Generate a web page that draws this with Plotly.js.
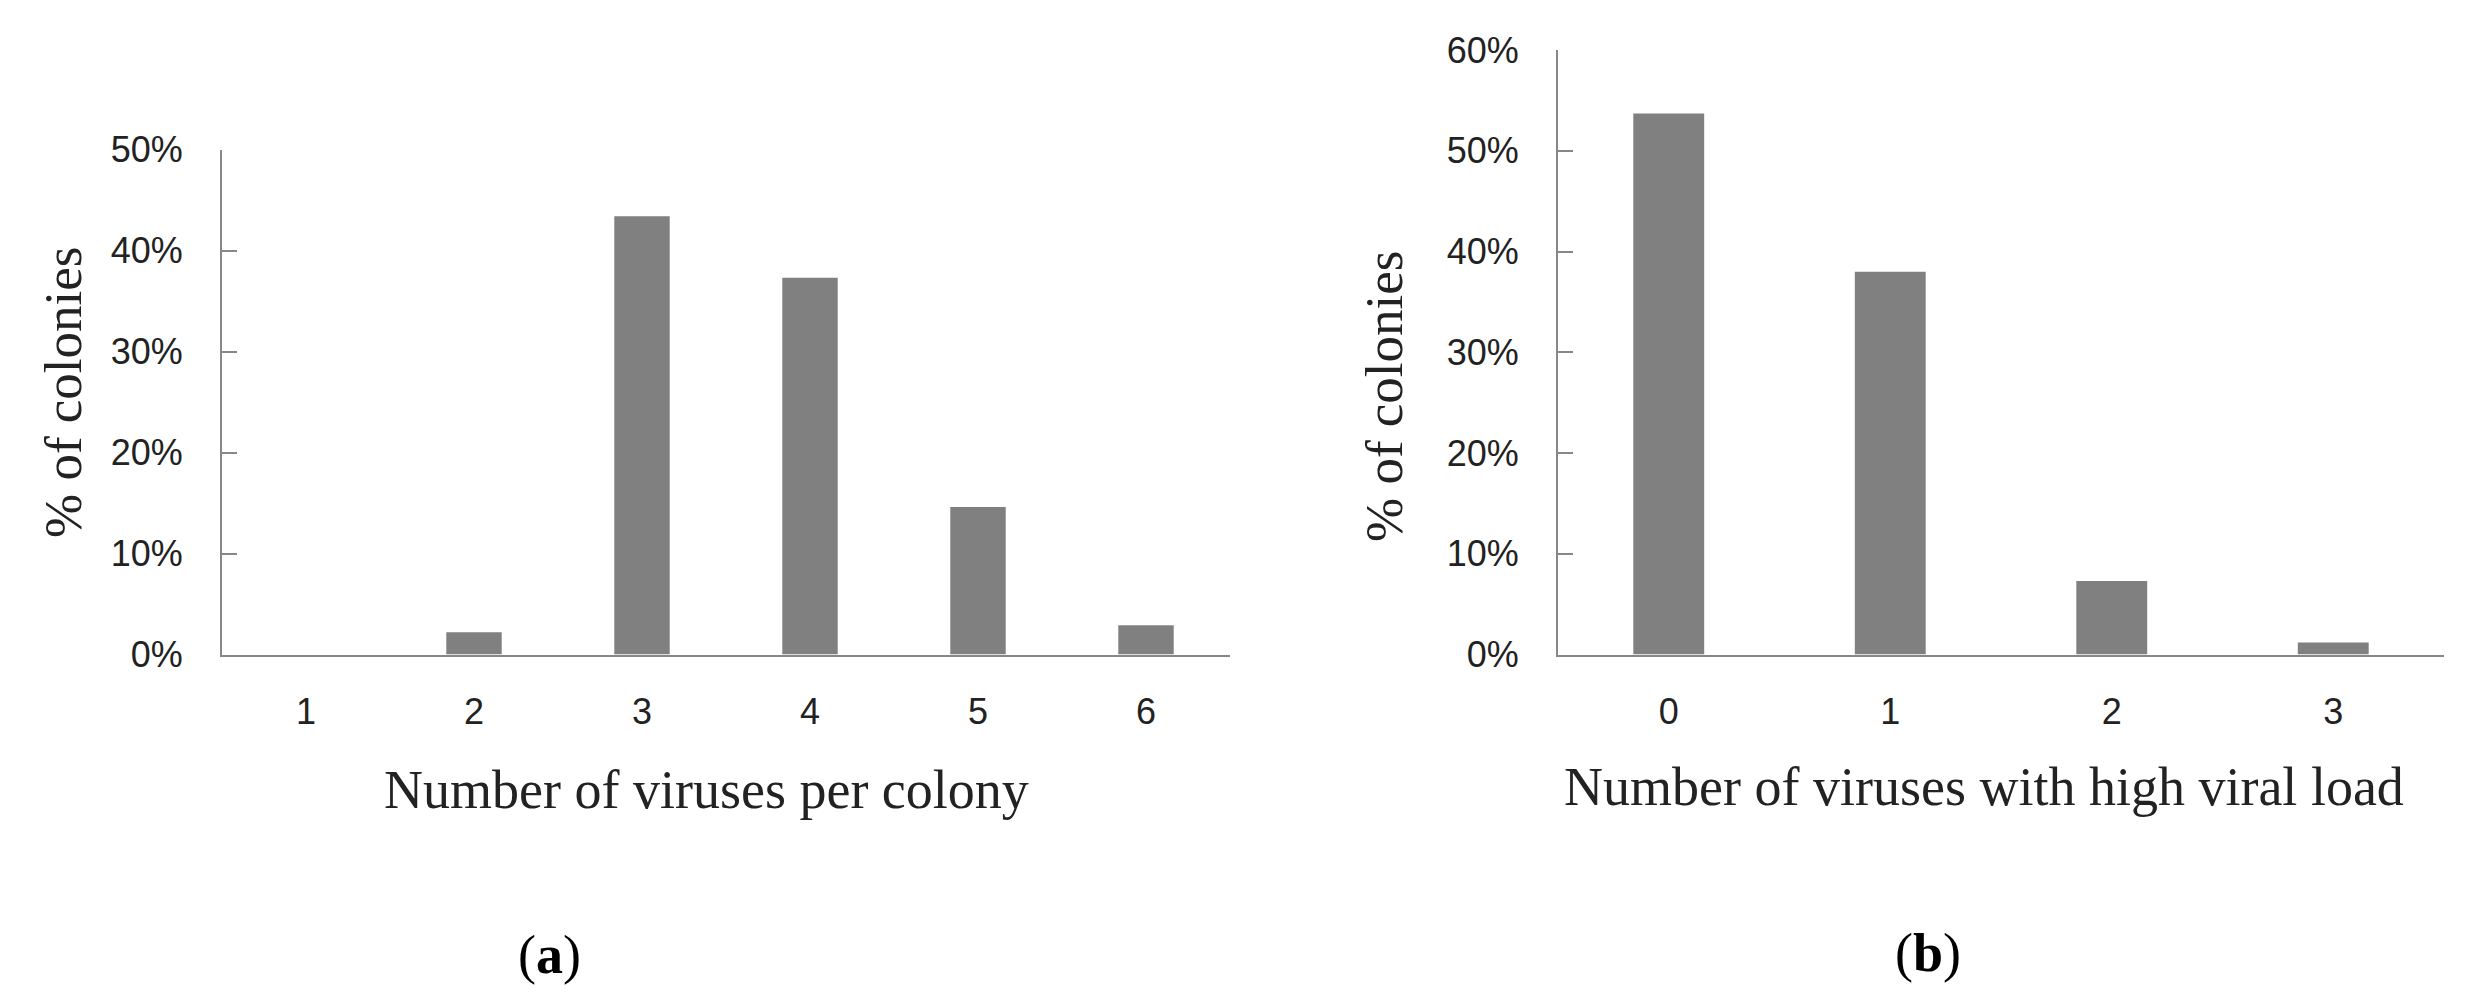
<!DOCTYPE html>
<html>
<head>
<meta charset="utf-8">
<script src="https://cdn.plot.ly/plotly-3.0.1.min.js"></script>
<style>
  html, body { margin: 0; padding: 0; background: #fff; }
  #chart { width: 2468px; height: 1007px; }
</style>
</head>
<body>
<div id="chart"></div>
<script>
// Panel (a)
const catsA = ['1', '2', '3', '4', '5', '6'];
const valsA = [0, 2.2, 43.4, 37.3, 14.6, 2.9];
const titleAx = 'Number of viruses per colony';
// Panel (b)
const catsB = ['0', '1', '2', '3'];
const valsB = [53.7, 38.0, 7.3, 1.2];
const titleBx = 'Number of viruses with high viral load';
const titleY = '% of colonies';
const labelA = '(<b>a</b>)';
const labelB = '(<b>b</b>)';

const W = 2468, H = 1007;
const px = x => x / W;
const py = y => (H - y) / H;

const barColor = '#808080';
const axisColor = '#878787';
const tickFont = { family: 'Liberation Sans, Arial, sans-serif', size: 36, color: '#222222' };
const serif = 'Liberation Serif, Times New Roman, serif';

const traces = [
  { type: 'bar', x: catsA, y: valsA, xaxis: 'x', yaxis: 'y', width: 0.33,
    marker: { color: barColor }, hoverinfo: 'x+y', showlegend: false },
  { type: 'bar', x: catsB, y: valsB, xaxis: 'x2', yaxis: 'y2', width: 0.32,
    marker: { color: barColor }, hoverinfo: 'x+y', showlegend: false }
];

const xCommon = {
  type: 'category', showline: true, linecolor: axisColor, linewidth: 2,
  ticks: '', showgrid: false, zeroline: false, tickfont: tickFont,
  ticklabelstandoff: 24, fixedrange: true
};
const yCommon = {
  showline: true, linecolor: axisColor, linewidth: 2, ticks: 'inside',
  ticklen: 15, tickwidth: 2, tickcolor: axisColor, showgrid: false, zeroline: false,
  dtick: 10, ticksuffix: '%', tickfont: tickFont, ticklabelstandoff: 30, fixedrange: true
};

const layout = {
  width: W, height: H,
  margin: { l: 0, r: 0, t: 0, b: 0 },
  paper_bgcolor: '#ffffff', plot_bgcolor: '#ffffff',
  bargap: 0.67,
  xaxis: Object.assign({}, xCommon, { domain: [px(222), px(1230)], anchor: 'y' }),
  yaxis: Object.assign({}, yCommon, { domain: [py(654.5), py(149.5)], range: [0, 50], anchor: 'x' }),
  xaxis2: Object.assign({}, xCommon, { domain: [px(1558), px(2444)], anchor: 'y2' }),
  yaxis2: Object.assign({}, yCommon, { domain: [py(654.5), py(50)], range: [0, 60], anchor: 'x2' }),
  annotations: [
    { text: titleY, xref: 'paper', yref: 'paper', x: px(63), y: py(393), textangle: -90,
      xanchor: 'center', yanchor: 'middle', showarrow: false,
      font: { family: serif, size: 53, color: '#222222' } },
    { text: titleAx, xref: 'paper', yref: 'paper', x: px(706), y: py(790),
      xanchor: 'center', yanchor: 'middle', showarrow: false,
      font: { family: serif, size: 54, color: '#222222' } },
    { text: titleY, xref: 'paper', yref: 'paper', x: px(1384), y: py(397), textangle: -90,
      xanchor: 'center', yanchor: 'middle', showarrow: false,
      font: { family: serif, size: 53, color: '#222222' } },
    { text: titleBx, xref: 'paper', yref: 'paper', x: px(1984), y: py(787),
      xanchor: 'center', yanchor: 'middle', showarrow: false,
      font: { family: serif, size: 54, color: '#222222' } },
    { text: labelA, xref: 'paper', yref: 'paper', x: px(549), y: py(955),
      xanchor: 'center', yanchor: 'middle', showarrow: false,
      font: { family: serif, size: 54, color: '#000000' } },
    { text: labelB, xref: 'paper', yref: 'paper', x: px(1928), y: py(953),
      xanchor: 'center', yanchor: 'middle', showarrow: false,
      font: { family: serif, size: 54, color: '#000000' } }
  ]
};

Plotly.newPlot('chart', traces, layout, { displayModeBar: false, staticPlot: true });
</script>
</body>
</html>
